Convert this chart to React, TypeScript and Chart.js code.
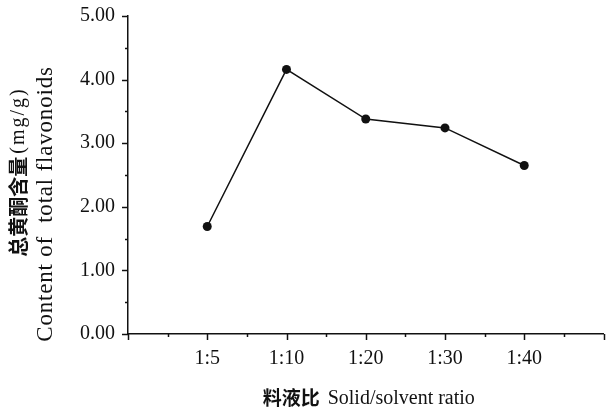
import React, { useEffect, useRef } from "react";
import { Chart, registerables } from "chart.js";

Chart.register(...registerables);

const categories = ["1:5", "1:10", "1:20", "1:30", "1:40"];
const flavonoids = [1.69, 4.16, 3.38, 3.24, 2.65];
const yTicks = [0, 1, 2, 3, 4, 5];

const SERIF = "'Liberation Serif', 'Times New Roman', serif";
const CJK = "'Noto Sans CJK SC', sans-serif";

const decorPlugin = {
  id: "decor",
  afterDraw(chart: any) {
    const ctx = chart.ctx;
    const x = chart.scales.x;
    const y = chart.scales.y;
    const area = chart.chartArea;
    ctx.save();
    ctx.strokeStyle = "#111";
    ctx.lineWidth = 1.5;
    // x ticks
    for (let v = 0; v <= 6.001; v += 0.5) {
      const px = Math.round(x.getPixelForValue(v)) + 0.5;
      const major = Math.abs(v - Math.round(v)) < 1e-6;
      ctx.beginPath();
      ctx.moveTo(px, area.bottom);
      ctx.lineTo(px, area.bottom + (major ? 6 : 3));
      ctx.stroke();
    }
    // y ticks
    for (let v = 0; v <= 5.001; v += 0.5) {
      const py = Math.round(y.getPixelForValue(v)) + 0.5;
      const major = Math.abs(v - Math.round(v)) < 1e-6;
      ctx.beginPath();
      ctx.moveTo(area.left, py);
      ctx.lineTo(area.left - (major ? 6 : 3), py);
      ctx.stroke();
    }
    ctx.fillStyle = "#111";
    ctx.textBaseline = "middle";
    ctx.textAlign = "left";
    // x title
    const cn = "料液比";
    const en = "Solid/solvent ratio";
    const gap = 8;
    ctx.font = `bold 19px ${CJK}`;
    const wcn = ctx.measureText(cn).width;
    ctx.font = `20px ${SERIF}`;
    const wen = ctx.measureText(en).width;
    const cx = (area.left + area.right) / 2 + 3;
    const sx = cx - (wcn + gap + wen) / 2;
    ctx.font = `bold 19px ${CJK}`;
    ctx.fillText(cn, sx, 398);
    ctx.font = `20px ${SERIF}`;
    ctx.fillText(en, sx + wcn + gap, 399);
    // y title, line 1
    ctx.save();
    ctx.translate(18, 172);
    ctx.rotate(-Math.PI / 2);
    const cn2 = "总黄酮含量";
    const en2 = "(mg/g)";
    ctx.font = `bold 20px ${CJK}`;
    const w1 = ctx.measureText(cn2).width;
    ctx.font = `20px ${SERIF}`;
    (ctx as any).letterSpacing = "2px";
    const w2 = ctx.measureText(en2).width;
    const s2 = -(w1 + 3 + w2) / 2;
    (ctx as any).letterSpacing = "0px";
    ctx.font = `bold 20px ${CJK}`;
    ctx.fillText(cn2, s2, 0);
    ctx.font = `20px ${SERIF}`;
    (ctx as any).letterSpacing = "2px";
    ctx.fillText(en2, s2 + w1 + 3, 1);
    ctx.restore();
    // y title, line 2
    ctx.save();
    ctx.translate(46, 204);
    ctx.rotate(-Math.PI / 2);
    ctx.font = `23px ${SERIF}`;
    (ctx as any).letterSpacing = "0.8px";
    ctx.textAlign = "center";
    ctx.fillText("Content of  total flavonoids", 0, 0);
    ctx.restore();
    ctx.restore();
  },
};

export default function App() {
  const ref = useRef<HTMLCanvasElement | null>(null);
  useEffect(() => {
    if (!ref.current) return;
    const chart = new Chart(ref.current, {
      type: "line",
      data: {
        datasets: [
          {
            data: flavonoids.map((v, i) => ({ x: i + 1, y: v })),
            borderColor: "#111",
            backgroundColor: "#111",
            borderWidth: 1.5,
            pointRadius: 4.5,
            pointBackgroundColor: "#111",
            pointBorderWidth: 0,
            tension: 0,
          },
        ],
      },
      options: {
        responsive: false,
        animation: false,
        devicePixelRatio: 1,
        layout: { padding: { top: 16, right: 1, left: 0, bottom: 0 } },
        plugins: { legend: { display: false }, tooltip: { enabled: false } },
        scales: {
          x: {
            type: "linear",
            min: 0,
            max: 6,
            afterFit: (s: any) => {
              s.height = 80;
              s.paddingLeft = 0;
              s.paddingRight = 0;
            },
            afterBuildTicks: (s: any) => {
              s.ticks = categories.map((_, i) => ({ value: i + 1 }));
            },
            grid: { display: true, drawOnChartArea: false, drawTicks: false },
            border: { display: true, color: "#111", width: 1.5 },
            ticks: {
              padding: 13,
              color: "#111",
              font: { family: SERIF, size: 20 },
              maxRotation: 0,
              autoSkip: false,
              callback: (v: any) => categories[Math.round(v) - 1] ?? "",
            },
          },
          y: {
            type: "linear",
            min: 0,
            max: 5,
            afterFit: (s: any) => {
              s.width = 128;
              s.paddingTop = 0;
              s.paddingBottom = 0;
            },
            afterBuildTicks: (s: any) => {
              s.ticks = yTicks.map((v) => ({ value: v }));
            },
            grid: { display: true, drawOnChartArea: false, drawTicks: false },
            border: { display: true, color: "#111", width: 1.5 },
            ticks: {
              padding: 13,
              color: "#111",
              font: { family: SERIF, size: 20 },
              callback: (v: any) => Number(v).toFixed(2),
            },
          },
        },
      },
      plugins: [decorPlugin],
    });
    return () => chart.destroy();
  }, []);
  return (
    <div style={{ position: "absolute", left: 0, top: 0, width: 608, height: 414, background: "#fff" }}>
      <canvas ref={ref} width={608} height={414} />
    </div>
  );
}
